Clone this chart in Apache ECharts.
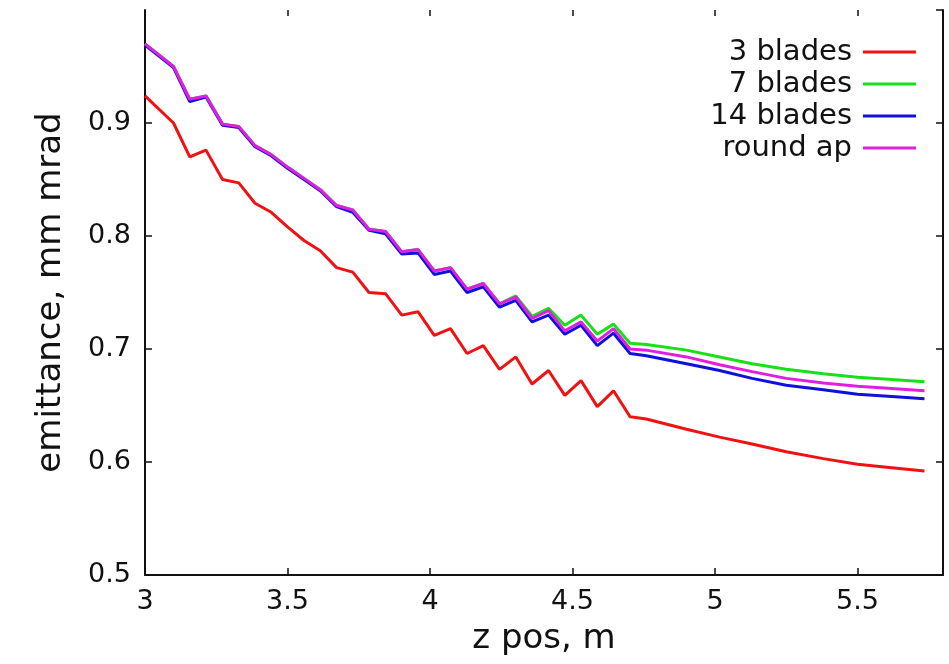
<!DOCTYPE html>
<html><head><meta charset="utf-8">
<script src="https://cdn.jsdelivr.net/npm/echarts@6/dist/echarts.min.js"></script>
<style>html,body{margin:0;padding:0;background:#fff}#c{width:949px;height:664px}</style>
</head><body><div id="c"></div>
<script>
// z position (m)
const zPos = [3.000, 3.100, 3.157, 3.214, 3.272, 3.329, 3.386, 3.443, 3.500, 3.558,
  3.615, 3.672, 3.729, 3.786, 3.844, 3.901, 3.958, 4.015, 4.072, 4.130,
  4.187, 4.244, 4.301, 4.358, 4.416, 4.473, 4.530, 4.587, 4.644, 4.702,
  4.759, 4.900, 5.016, 5.130, 5.250, 5.380, 5.500, 5.620, 5.735];
const blades3 = [0.924, 0.900, 0.870, 0.876, 0.850, 0.847, 0.829, 0.821, 0.808, 0.796,
  0.787, 0.772, 0.768, 0.750, 0.749, 0.730, 0.733, 0.712, 0.718, 0.696,
  0.703, 0.682, 0.693, 0.669, 0.681, 0.659, 0.672, 0.649, 0.663, 0.640,
  0.638, 0.629, 0.622, 0.616, 0.609, 0.603, 0.598, 0.595, 0.592];
const blades7 = [0.970, 0.950, 0.921, 0.924, 0.899, 0.897, 0.880, 0.872, 0.861, 0.851,
  0.841, 0.827, 0.823, 0.806, 0.804, 0.786, 0.788, 0.769, 0.772, 0.753,
  0.758, 0.740, 0.747, 0.729, 0.736, 0.721, 0.730, 0.713, 0.722, 0.705,
  0.704, 0.699, 0.693, 0.687, 0.682, 0.678, 0.675, 0.673, 0.671];
const blades14 = [0.969, 0.949, 0.919, 0.923, 0.898, 0.896, 0.879, 0.871, 0.860, 0.850,
  0.840, 0.826, 0.821, 0.805, 0.802, 0.784, 0.785, 0.766, 0.769, 0.750,
  0.755, 0.737, 0.743, 0.724, 0.730, 0.713, 0.721, 0.703, 0.714, 0.696,
  0.694, 0.687, 0.681, 0.674, 0.668, 0.664, 0.660, 0.658, 0.656];
const roundAp = [0.970, 0.950, 0.921, 0.924, 0.899, 0.897, 0.880, 0.872, 0.861, 0.851,
  0.841, 0.827, 0.823, 0.806, 0.804, 0.786, 0.788, 0.769, 0.772, 0.753,
  0.758, 0.740, 0.746, 0.727, 0.734, 0.716, 0.724, 0.707, 0.718, 0.700,
  0.699, 0.693, 0.686, 0.680, 0.674, 0.670, 0.667, 0.665, 0.663];
const seriesNames = ['3 blades', '7 blades', '14 blades', 'round ap'];
const seriesValues = [blades3, blades7, blades14, roundAp];
const seriesColors = ['#f01212', '#18e018', '#1010dc', '#e01ee0'];

const FONT = 'DejaVu Sans';
const INK = '#111';
const chart = echarts.init(document.getElementById('c'), null, {renderer: 'canvas'});
const axisLine = {show: true, onZero: false, lineStyle: {color: INK, width: 2}};
const tick = {show: true, inside: true, length: 7, lineStyle: {color: INK, width: 1.5}};

chart.setOption({
  animation: false,
  backgroundColor: '#fff',
  grid: {left: 145, right: 6, top: 10, bottom: 89},
  legend: {
    orient: 'vertical', right: 28, top: 32, align: 'right',
    icon: 'rect', itemWidth: 53, itemHeight: 3, itemGap: 2,
    textStyle: {fontFamily: FONT, fontSize: 29, color: INK, lineHeight: 30, padding: [0, 6, 0, 0]},
    data: seriesNames
  },
  xAxis: [{
    type: 'value', min: 3, max: 5.8, interval: 0.5, position: 'bottom',
    axisLine: axisLine, axisTick: tick, splitLine: {show: false},
    axisLabel: {showMaxLabel: false, fontFamily: FONT, fontSize: 27, color: INK, margin: 13},
    name: 'z pos, m', nameLocation: 'middle', nameGap: 47,
    nameTextStyle: {fontFamily: FONT, fontSize: 34, color: INK}
  }, {
    type: 'value', min: 3, max: 5.8, interval: 0.5, position: 'top',
    axisLine: {show: false}, axisTick: {show: true, inside: true, length: 6, lineStyle: {color: INK, width: 1.5}},
    axisLabel: {show: false}, splitLine: {show: false}
  }],
  yAxis: [{
    type: 'value', min: 0.5, max: 1.0, interval: 0.1, position: 'left',
    axisLine: axisLine, axisTick: tick, splitLine: {show: false},
    axisLabel: {showMaxLabel: false, fontFamily: FONT, fontSize: 27, color: INK, margin: 14},
    name: 'emittance, mm mrad', nameLocation: 'middle', nameGap: 77,
    nameTextStyle: {fontFamily: FONT, fontSize: 34, color: INK}
  }, {
    type: 'value', min: 0.5, max: 1.0, interval: 0.1, position: 'right',
    axisLine: axisLine, axisTick: tick, splitLine: {show: false},
    axisLabel: {show: false}
  }],
  series: seriesNames.map((name, s) => ({
    name: name, type: 'line', xAxisIndex: 0, yAxisIndex: 0,
    symbol: 'none', smooth: false,
    color: seriesColors[s],
    lineStyle: {color: seriesColors[s], width: 3},
    data: zPos.map((z, i) => [z, seriesValues[s][i]])
  }))
});
</script>
</body></html>
